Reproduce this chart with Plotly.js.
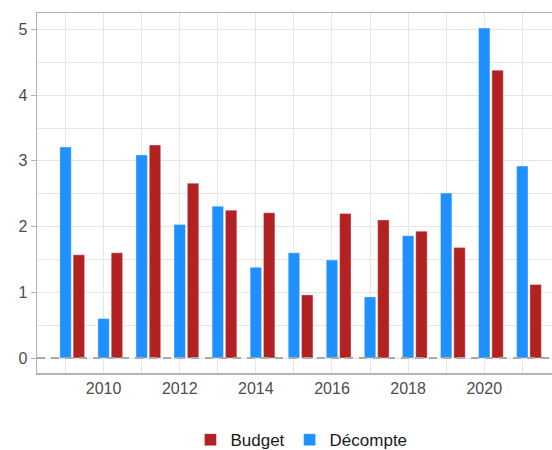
<!DOCTYPE html>
<html>
<head>
<meta charset="utf-8">
<script src="https://cdn.plot.ly/plotly-3.0.1.min.js"></script>
<style>html,body{margin:0;padding:0;background:#fff;}#chart{width:552px;height:450px;}</style>
</head>
<body>
<div id="chart"></div>
<script>
const years = [2009, 2010, 2011, 2012, 2013, 2014, 2015, 2016, 2017, 2018, 2019, 2020, 2021];
const decompte = [3.21, 0.60, 3.09, 2.03, 2.31, 1.38, 1.60, 1.49, 0.93, 1.86, 2.51, 5.02, 2.92];
const budget = [1.57, 1.60, 3.24, 2.66, 2.25, 2.21, 0.96, 2.20, 2.10, 1.93, 1.68, 4.38, 1.12];
const seriesNames = ['Budget', 'Décompte'];
const xTicks = [2010, 2012, 2014, 2016, 2018, 2020];
const yTicks = [0, 1, 2, 3, 4, 5];

const traces = [
  {
    type: 'bar', name: seriesNames[0], x: years, y: budget,
    width: 0.3, offset: 0.2,
    marker: {color: '#B22222', line: {color: 'rgba(255,255,255,0.35)', width: 1}},
    hoverinfo: 'skip'
  },
  {
    type: 'bar', name: seriesNames[1], x: years, y: decompte,
    width: 0.3, offset: -0.15,
    marker: {color: '#1E90FF', line: {color: 'rgba(255,255,255,0.35)', width: 1}},
    hoverinfo: 'skip'
  }
];

const layout = {
  width: 552, height: 450,
  margin: {l: 37, r: 0, t: 13, b: 77, autoexpand: false},
  paper_bgcolor: '#fff', plot_bgcolor: '#fff',
  barmode: 'overlay',
  showlegend: true,
  font: {family: 'Liberation Sans, Arial, sans-serif', color: '#4d4d4d', size: 16},
  legend: {
    orientation: 'h', xref: 'container', x: 0.345, xanchor: 'left',
    yref: 'container', y: 0.022, yanchor: 'middle',
    font: {size: 17, color: '#1a1a1a'}, traceorder: 'normal'
  },
  xaxis: {
    range: [2008.25, 2021.78], automargin: false,
    tickvals: xTicks, ticktext: xTicks.map(String),
    showgrid: true, gridcolor: '#e6e6e6', gridwidth: 1,
    minor: {dtick: 1, tick0: 2009, showgrid: true, gridcolor: '#e6e6e6', gridwidth: 1, ticks: ''},
    showline: true, linecolor: '#b3b3b3', linewidth: 1.5, mirror: true,
    ticks: '', zeroline: false, tickfont: {size: 16, color: '#4d4d4d'}
  },
  yaxis: {
    range: [-0.228, 5.25], automargin: false,
    tickvals: yTicks, ticktext: yTicks.map(String),
    showgrid: true, gridcolor: '#e6e6e6', gridwidth: 1,
    minor: {dtick: 0.5, tick0: 0, showgrid: true, gridcolor: '#e6e6e6', gridwidth: 1, ticks: ''},
    showline: true, linecolor: '#b3b3b3', linewidth: 1.5, mirror: false,
    ticks: 'outside', ticklen: 5, tickcolor: '#b3b3b3', tickwidth: 1,
    zeroline: false, tickfont: {size: 16, color: '#4d4d4d'}
  },
  shapes: [{
    type: 'line', xref: 'paper', x0: 0, x1: 1, yref: 'y', y0: 0, y1: 0,
    line: {color: '#aaaaaa', width: 2, dash: '8px,6px'}, layer: 'above'
  }]
};

Plotly.newPlot('chart', traces, layout, {displayModeBar: false, staticPlot: true});
</script>
</body>
</html>
